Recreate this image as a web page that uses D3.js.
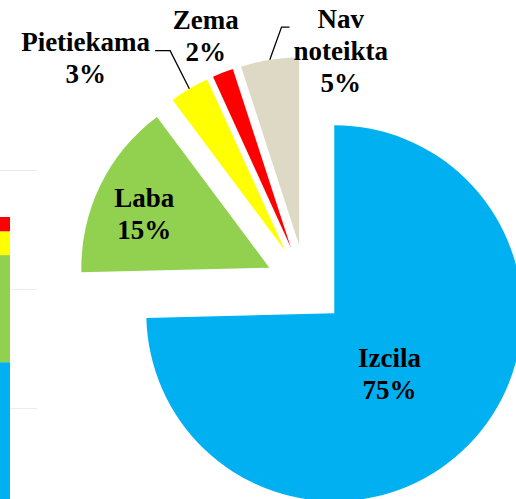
<!DOCTYPE html>
<html>
<head>
<meta charset="utf-8">
<script src="https://cdn.jsdelivr.net/npm/d3@7"></script>
<style>
  body { margin: 0; background: #fff; }
  svg { display: block; }
</style>
</head>
<body>
<div id="chart"></div>
<script>
/* Exploded pie of grades, with the edge of a stacked bar chart next to it */

const width = 516, height = 499;

// pie data (percent)
const categories = ["Izcila", "Laba", "Pietiekama", "Zema", "Nav noteikta"];
const labelLines = [["Izcila"], ["Laba"], ["Pietiekama"], ["Zema"], ["Nav", "noteikta"]];
const values = [74.6, 15.2, 3.4, 1.8, 5.0];
const colors = ["#00B0F0", "#92D050", "#FFFF00", "#FF0000", "#DDD9C4"];

// the cut-off bar chart on the left (percent, bottom to top)
const barCategories = ["Kopā"];
const barIzcila = [67.7];
const barLaba = [18.0];
const barPietiekama = [4.0];
const barZema = [2.4];
const barTicks = [60, 80, 100];

// layout (not data)
const cx = 305.5, cy = 285.2, radius = 188, explode = 40.2;
const labelLayout = [ // k = distance / radius from the slice tip, da = angle shift in degrees
  { k: 0.41, da: 0, leader: false },
  { k: 0.74, da: 0, leader: false },
  { k: 1.50, da: -14.4, leader: true },
  { k: 1.25, da: 0, leader: false },
  { k: 1.18, da: 19.8, leader: true }
];
const lineHeight = 32;
const labelFont = "'Liberation Serif', 'Times New Roman', Times, 'DejaVu Serif', serif";

const svg = d3.select("#chart")
  .append("svg")
  .attr("width", width)
  .attr("height", height);

/* ---- left bar chart, mostly outside the picture ---- */
const yBar = d3.scaleLinear()
  .domain([0, 100])
  .range([765, 170]);
const xBar = d3.scaleBand()
  .domain(barCategories)
  .range([-40, 37])
  .paddingInner(0)
  .paddingOuter(0.2);

svg.append("g")
  .attr("transform", `translate(${xBar.range()[1]},0)`)
  .call(d3.axisLeft(yBar).tickValues(barTicks).tickSize(xBar.range()[1] - xBar.range()[0]).tickFormat(""))
  .call(g => g.select(".domain").remove())
  .call(g => g.selectAll(".tick line").attr("stroke", "#ececec").attr("stroke-width", 1));

const barTable = barCategories.map((c, i) => ({
  cat: c, Izcila: barIzcila[i], Laba: barLaba[i], Pietiekama: barPietiekama[i], Zema: barZema[i]
}));
const stack = d3.stack().keys(["Izcila", "Laba", "Pietiekama", "Zema"])(barTable);

svg.append("g")
  .selectAll("g")
  .data(stack)
  .join("g")
  .attr("fill", (d, i) => colors[i])
  .selectAll("rect")
  .data(d => d)
  .join("rect")
  .attr("x", d => xBar(d.data.cat))
  .attr("width", 10 - xBar(barCategories[0]))
  .attr("y", d => yBar(d[1]))
  .attr("height", d => yBar(d[0]) - yBar(d[1]));

/* ---- exploded pie ---- */
const rad = deg => deg * Math.PI / 180;
const pie = d3.pie().sort(null).value(d => d.value);
const arcs = pie(categories.map((c, i) => ({ name: c, value: values[i], i })));

const arc = d3.arc().innerRadius(0).outerRadius(radius);

// tip of each exploded slice
const tip = a => {
  const m = (a.startAngle + a.endAngle) / 2;
  return [cx + explode * Math.sin(m), cy - explode * Math.cos(m)];
};

svg.append("g")
  .selectAll("path")
  .data(arcs)
  .join("path")
  .attr("transform", d => `translate(${tip(d)})`)
  .attr("d", arc)
  .attr("fill", d => colors[d.data.i]);

// labels
const labels = svg.append("g");
arcs.forEach((a, i) => {
  const lay = labelLayout[i];
  const [tx, ty] = tip(a);
  const ang = (a.startAngle + a.endAngle) / 2 + rad(lay.da);
  const lx = tx + lay.k * radius * Math.sin(ang);
  const ly = ty - lay.k * radius * Math.cos(ang);

  const lines = labelLines[i].concat([Math.round(values[i]) + "%"]);
  const t = labels.append("text")
    .attr("font-family", labelFont)
    .attr("font-weight", "bold")
    .attr("font-size", 27)
    .attr("fill", "#000")
    .attr("text-anchor", "middle")
    .attr("x", lx)
    .attr("y", ly);
  lines.forEach((s, j) => {
    t.append("tspan").attr("x", lx).attr("dy", j === 0 ? 0 : lineHeight).text(s);
  });

  if (lay.leader) {
    const w = d3.max(t.selectAll("tspan").nodes(), n => n.getComputedTextLength());
    const m = (a.startAngle + a.endAngle) / 2;
    const start = [tx + radius * Math.sin(m), ty - radius * Math.cos(m)];
    const right = lx < start[0];
    const endX = right ? lx + w / 2 + 5 : lx - w / 2 - 4;
    const elbowX = right ? endX + 15 : endX - 8;
    const yLine = ly - 0.5;
    svg.append("path")
      .attr("d", d3.line()([start, [elbowX, yLine], [endX, yLine]]))
      .attr("fill", "none")
      .attr("stroke", "#000")
      .attr("stroke-width", 1.3);
  }
});
</script>
</body>
</html>
